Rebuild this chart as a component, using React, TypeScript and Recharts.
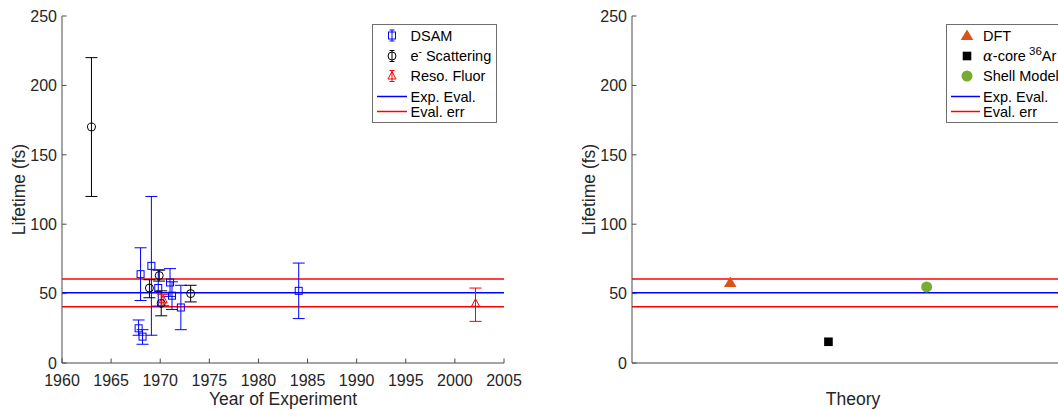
import type React from "react";
import {
  ScatterChart,
  Scatter,
  XAxis,
  YAxis,
  ErrorBar,
  ReferenceLine,
} from "recharts";

// values
const YEAR_TICKS = [1960, 1965, 1970, 1975, 1980, 1985, 1990, 1995, 2000, 2005];
const LIFETIME_TICKS = [0, 50, 100, 150, 200, 250];

const DSAM_YEAR = [1967.8, 1968.2, 1968.0, 1969.1, 1969.8, 1971.0, 1971.2, 1972.1, 1984.1];
const DSAM_LIFETIME = [25, 19, 64, 70, 54, 58, 48.5, 40, 52];
const DSAM_ERR_LOW = [5, 5.5, 19, 50, 13, 10, 10, 16, 20];
const DSAM_ERR_HIGH = [6, 5, 19, 50, 13, 10, 10, 16, 20];

const ESCAT_YEAR = [1963.0, 1968.9, 1969.9, 1970.1, 1973.1];
const ESCAT_LIFETIME = [170, 54, 63, 43, 50];
const ESCAT_ERR_LOW = [50, 7, 4, 9, 6];
const ESCAT_ERR_HIGH = [50, 6, 4, 9, 6];

const FLUOR_YEAR = [1970.3, 2002.1];
const FLUOR_LIFETIME = [45.5, 43];
const FLUOR_ERR_LOW = [4, 13];
const FLUOR_ERR_HIGH = [4, 11];

const EXP_EVAL = 50.6;
const EVAL_ERR = 10;

const THEORY_NAMES = ["DFT", "alpha-core 36Ar", "Shell Model"];
const THEORY_X = [1, 2, 3];
const THEORY_LIFETIME = [58, 15.3, 54.8];

const FONT = '"Liberation Sans", Arial, Helvetica, sans-serif';
const AXIS_COLOR = "#4a4a4a";
const TEXT_COLOR = "#262626";
const BLUE = "#0000ff";
const RED = "#ff0000";
const ORANGE = "#d95319";
const GREEN = "#77ac30";
const TICK_FONT = 16;
const TITLE_FONT = 17.5;

function makeRows(x: number[], y: number[], lo: number[], hi: number[]) {
  return x.map((v, i) => ({ x: v, y: y[i], err: [lo[i], hi[i]] }));
}

const dsamRows = makeRows(DSAM_YEAR, DSAM_LIFETIME, DSAM_ERR_LOW, DSAM_ERR_HIGH);
const escatRows = makeRows(ESCAT_YEAR, ESCAT_LIFETIME, ESCAT_ERR_LOW, ESCAT_ERR_HIGH);
const fluorRows = makeRows(FLUOR_YEAR, FLUOR_LIFETIME, FLUOR_ERR_LOW, FLUOR_ERR_HIGH);
const theoryRows = THEORY_X.map((x, i) => ({ x, y: THEORY_LIFETIME[i], name: THEORY_NAMES[i] }));

// marker shapes
function OpenSquare(p: any) {
  return <rect x={p.cx - 3.5} y={p.cy - 3.5} width={7} height={7} fill="none" stroke={BLUE} strokeWidth={1} />;
}
function OpenCircle(p: any) {
  return <circle cx={p.cx} cy={p.cy} r={4} fill="none" stroke="#000" strokeWidth={1} />;
}
function OpenTriangle(p: any) {
  return (
    <path
      d={`M${p.cx},${p.cy - 4.5}L${p.cx + 4},${p.cy + 3}L${p.cx - 4},${p.cy + 3}Z`}
      fill="none"
      stroke={RED}
      strokeWidth={1}
    />
  );
}
function FilledTriangle(p: any) {
  return <path d={`M${p.cx},${p.cy - 6}L${p.cx + 6.3},${p.cy + 4.6}L${p.cx - 6.3},${p.cy + 4.6}Z`} fill={ORANGE} />;
}
function FilledSquare(p: any) {
  return <rect x={p.cx - 4.3} y={p.cy - 4.3} width={8.6} height={8.6} fill="#000" />;
}
function FilledCircle(p: any) {
  return <circle cx={p.cx} cy={p.cy} r={5.5} fill={GREEN} />;
}

// MATLAB style ticks: marks inside, labels outside
function XTick(props: any) {
  const { x, y, payload } = props;
  return (
    <g>
      <line x1={x} x2={x} y1={y} y2={y - 4.5} stroke={AXIS_COLOR} strokeWidth={1} />
      <text x={x} y={y + 22.5} textAnchor="middle" fill={TEXT_COLOR} fontSize={TICK_FONT} fontFamily={FONT}>
        {payload.value}
      </text>
    </g>
  );
}

function YTick(props: any) {
  const { x, y, payload } = props;
  return (
    <g>
      <line x1={x} x2={x + 4.5} y1={y} y2={y} stroke={AXIS_COLOR} strokeWidth={1} />
      <text x={x - 5} y={y + 5.7} textAnchor="end" fill={TEXT_COLOR} fontSize={TICK_FONT} fontFamily={FONT}>
        {payload.value}
      </text>
    </g>
  );
}

function xTitle(text: string) {
  return (p: any) => {
    const vb = p.viewBox;
    return (
      <text x={vb.x + vb.width / 2} y={vb.y + 42} textAnchor="middle" fill={TEXT_COLOR} fontSize={TITLE_FONT} fontFamily={FONT}>
        {text}
      </text>
    );
  };
}

function yTitle(text: string) {
  return (p: any) => {
    const vb = p.viewBox;
    const x = vb.x + vb.width - 37;
    const y = vb.y + vb.height / 2;
    return (
      <text
        x={x}
        y={y}
        transform={`rotate(-90, ${x}, ${y})`}
        textAnchor="middle"
        fill={TEXT_COLOR}
        fontSize={TITLE_FONT}
        fontFamily={FONT}
      >
        {text}
      </text>
    );
  };
}

function EvalLines() {
  return [
    <ReferenceLine key="hi" y={EXP_EVAL + EVAL_ERR} stroke={RED} strokeWidth={1.5} />,
    <ReferenceLine key="mid" y={EXP_EVAL} stroke={BLUE} strokeWidth={1.5} />,
    <ReferenceLine key="lo" y={EXP_EVAL - EVAL_ERR} stroke={RED} strokeWidth={1.5} />,
  ];
}

// legend glyphs
function ErrGlyph(props: { cy: number; color: string; children: React.ReactNode }) {
  const cx = 20;
  return (
    <g>
      <line x1={cx} x2={cx} y1={props.cy - 5.5} y2={props.cy + 5.5} stroke={props.color} />
      <line x1={cx - 2.5} x2={cx + 2.5} y1={props.cy - 5.5} y2={props.cy - 5.5} stroke={props.color} />
      <line x1={cx - 2.5} x2={cx + 2.5} y1={props.cy + 5.5} y2={props.cy + 5.5} stroke={props.color} />
      {props.children}
    </g>
  );
}

function LineGlyph(props: { cy: number; color: string; x1: number; x2: number }) {
  return <line x1={props.x1} x2={props.x2} y1={props.cy} y2={props.cy} stroke={props.color} strokeWidth={1.5} />;
}

const ROWS = [11.5, 32, 52, 72.5, 87.5];

function LegendText(props: { x: number; y: number; children: React.ReactNode }) {
  return (
    <text x={props.x} y={props.y + 5.2} fill="#000" fontSize={14.5} fontFamily={FONT}>
      {props.children}
    </text>
  );
}

function LeftLegend() {
  return (
    <svg style={{ position: "absolute", left: 372, top: 24 }} width={126} height={100}>
      <rect x={0.5} y={0.5} width={124} height={98} fill="#fff" stroke="#6e6e6e" />
      <ErrGlyph cy={ROWS[0]} color={BLUE}>
        <OpenSquare cx={20} cy={ROWS[0]} />
      </ErrGlyph>
      <LegendText x={38.5} y={ROWS[0]}>DSAM</LegendText>
      <ErrGlyph cy={ROWS[1]} color="#000">
        <OpenCircle cx={20} cy={ROWS[1]} />
      </ErrGlyph>
      <LegendText x={38.5} y={ROWS[1]}>
        e<tspan dy={-6} fontSize={10}>-</tspan>
        <tspan dy={6}> Scattering</tspan>
      </LegendText>
      <ErrGlyph cy={ROWS[2]} color={RED}>
        <OpenTriangle cx={20} cy={ROWS[2]} />
      </ErrGlyph>
      <LegendText x={38.5} y={ROWS[2]}>Reso. Fluor</LegendText>
      <LineGlyph cy={ROWS[3]} color={BLUE} x1={5} x2={35} />
      <LegendText x={38.5} y={ROWS[3]}>Exp. Eval.</LegendText>
      <LineGlyph cy={ROWS[4]} color={RED} x1={5} x2={35} />
      <LegendText x={38.5} y={ROWS[4]}>Eval. err</LegendText>
    </svg>
  );
}

function RightLegend() {
  return (
    <svg style={{ position: "absolute", left: 946, top: 24 }} width={140} height={100}>
      <rect x={0.5} y={0.5} width={130} height={98} fill="#fff" stroke="#6e6e6e" />
      <FilledTriangle cx={21} cy={ROWS[0]} />
      <LegendText x={37} y={ROWS[0]}>DFT</LegendText>
      <FilledSquare cx={21} cy={ROWS[1]} />
      <LegendText x={37} y={ROWS[1]}>
        <tspan fontFamily='"DejaVu Serif", serif' fontStyle="italic">α</tspan>-core
        <tspan dy={-6} fontSize={11.5}> 36</tspan>
        <tspan dy={6}>Ar</tspan>
      </LegendText>
      <FilledCircle cx={21} cy={ROWS[2]} />
      <LegendText x={37} y={ROWS[2]}>Shell Model</LegendText>
      <LineGlyph cy={ROWS[3]} color={BLUE} x1={5} x2={34} />
      <LegendText x={37} y={ROWS[3]}>Exp. Eval.</LegendText>
      <LineGlyph cy={ROWS[4]} color={RED} x1={5} x2={34} />
      <LegendText x={37} y={ROWS[4]}>Eval. err</LegendText>
    </svg>
  );
}

export default function App() {
  return (
    <div
      style={{
        position: "absolute",
        left: 0,
        top: 0,
        width: 1058,
        height: 410,
        overflow: "hidden",
        background: "#fff",
        fontFamily: FONT,
      }}
    >
      {/* Left: experiments by year */}
      <div style={{ position: "absolute", left: 0, top: 0 }}>
        <ScatterChart width={544} height={410} margin={{ top: 16, right: 40, bottom: 0, left: 0 }}>
          <XAxis
            dataKey="x"
            type="number"
            domain={[1960, 2005]}
            ticks={YEAR_TICKS}
            allowDataOverflow
            height={47}
            tickSize={0}
            tickMargin={0}
            tickLine={false}
            tick={<XTick />}
            axisLine={{ stroke: AXIS_COLOR }}
            label={xTitle("Year of Experiment")}
          />
          <YAxis
            dataKey="y"
            type="number"
            domain={[0, 250]}
            ticks={LIFETIME_TICKS}
            allowDataOverflow
            width={62}
            tickSize={0}
            tickMargin={0}
            tickLine={false}
            tick={<YTick />}
            axisLine={{ stroke: AXIS_COLOR }}
            label={yTitle("Lifetime (fs)")}
          />
          {EvalLines()}
          <Scatter data={dsamRows} shape={OpenSquare} isAnimationActive={false}>
            <ErrorBar dataKey="err" direction="y" width={6} stroke={BLUE} strokeWidth={1} />
          </Scatter>
          <Scatter data={escatRows} shape={OpenCircle} isAnimationActive={false}>
            <ErrorBar dataKey="err" direction="y" width={6} stroke="#000" strokeWidth={1} />
          </Scatter>
          <Scatter data={fluorRows} shape={OpenTriangle} isAnimationActive={false}>
            <ErrorBar dataKey="err" direction="y" width={6} stroke={RED} strokeWidth={1} />
          </Scatter>
        </ScatterChart>
      </div>

      {/* Right: theory */}
      <div style={{ position: "absolute", left: 560, top: 0 }}>
        <ScatterChart width={524} height={410} margin={{ top: 16, right: 10, bottom: 0, left: 0 }}>
          <XAxis
            dataKey="x"
            type="number"
            domain={[0, 4.5]}
            allowDataOverflow
            height={47}
            tick={false}
            tickLine={false}
            axisLine={{ stroke: AXIS_COLOR }}
            label={xTitle("Theory")}
          />
          <YAxis
            dataKey="y"
            type="number"
            domain={[0, 250]}
            ticks={LIFETIME_TICKS}
            allowDataOverflow
            width={72}
            tickSize={0}
            tickMargin={0}
            tickLine={false}
            tick={<YTick />}
            axisLine={{ stroke: AXIS_COLOR }}
            label={yTitle("Lifetime (fs)")}
          />
          {EvalLines()}
          <Scatter data={[theoryRows[0]]} shape={FilledTriangle} isAnimationActive={false} />
          <Scatter data={[theoryRows[1]]} shape={FilledSquare} isAnimationActive={false} />
          <Scatter data={[theoryRows[2]]} shape={FilledCircle} isAnimationActive={false} />
        </ScatterChart>
      </div>

      <LeftLegend />
      <RightLegend />
    </div>
  );
}
